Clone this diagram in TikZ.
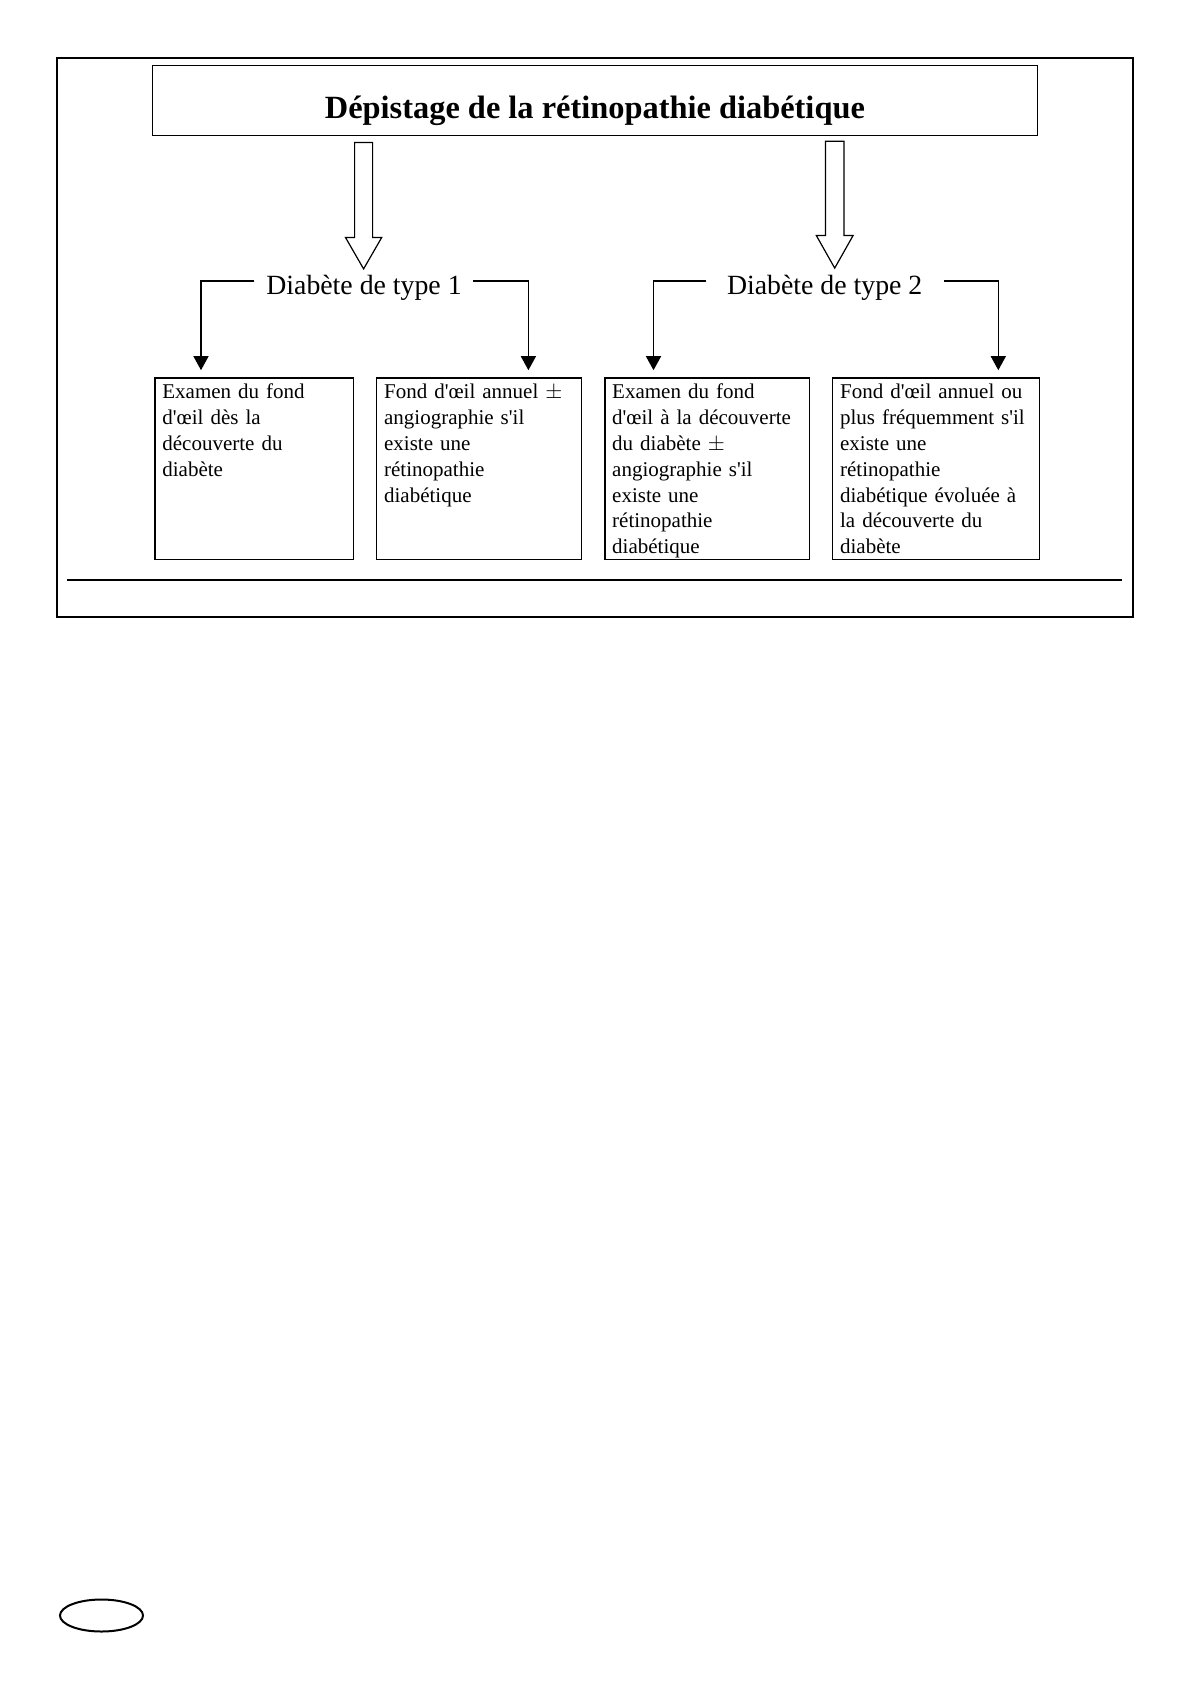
\documentclass[tikz,border=0pt]{standalone}
\usepackage{fontspec}
\setmainfont{Liberation Serif}
\usepackage{tikz}
\usetikzlibrary{arrows.meta, positioning, calc}
\tikzset{
  titlebox/.style={rectangle, draw, line width=0.7pt,
    minimum width=442.6pt, minimum height=35.2pt,
    font=\fontsize{16.2}{19}\selectfont\bfseries,
    text height=18.4pt, text depth=0pt},
  typelabel/.style={font=\fontsize{13.9}{16}\selectfont, inner sep=3pt},
  infobox/.style={rectangle, draw, line width=0.7pt, anchor=north west,
    align=left, text width=#1, inner xsep=3.7pt, inner ysep=3pt,
    text height=7.5pt, text depth=77.4pt,
    font=\fontsize{10.5}{12.9}\selectfont},
  hollow/.style={draw, line width=0.6pt, fill=white},
  arrow/.style={-{Triangle[length=7pt, width=7.5pt]}, line width=0.7pt},
  frame/.style={line width=1pt}
}
\newcommand{\q}{\textquotesingle}

\begin{document}
\begin{tikzpicture}[x=0.5pt, y=-0.5pt]
  \useasboundingbox (0,0) rectangle (1190,1684);
  \draw[frame] (57,58) rectangle (1133,617);

  \node[titlebox] (title) at (594.9,100.6) {Dépistage de la rétinopathie diabétique};

  \node[typelabel] (t1) at (364,288) {Diabète de type 1};
  \node[typelabel] (t2) at (824.7,288) {Diabète de type 2};

  \node[infobox=91.7pt] (b1) at (154.3,377.2)
    {Examen du fond\\d\q œil dès la\\découverte du\\diabète};
  \node[infobox=94.9pt, right=11.05pt of b1] (b2)
    {Fond d\q œil annuel $\pm$\\angiographie s\q il\\existe une\\rétinopathie\\diabétique};
  \node[infobox=94.8pt, right=11.05pt of b2] (b3)
    {Examen du fond\\d\q œil à la découverte\\du diabète $\pm$\\angiographie s\q il\\existe une\\rétinopathie\\diabétique};
  \node[infobox=95.9pt, right=11.05pt of b3] (b4)
    {Fond d\q œil annuel ou\\plus fréquemment s\q il\\existe une\\rétinopathie\\diabétique évoluée à\\la découverte du\\diabète};

  % hollow arrows from the title
  \draw[hollow] ($(title.south -| t1.north)+(-9.4,6)$) -- ++(0,95) -- ++(-9.1,0)
    -- ++(18.1,31.4) -- ++(18.1,-31.4) -- ++(-9.1,0) -- ++(0,-95) -- cycle;
  \draw[hollow] ($(title.south -| t2.north)+(0.7,4.8)$) -- ++(0,94.2) -- ++(-9.1,0)
    -- ++(18.4,32.6) -- ++(18.4,-32.6) -- ++(-9.1,0) -- ++(0,-94.2) -- cycle;

  \draw[arrow] ([xshift=-2.8pt, yshift=3.5pt]t1.west) -| ($(b1.north west)+(46.7,-7)$);
  \draw[arrow] ([xshift=2.7pt, yshift=3.5pt]t1.east) -| ($(b2.north east)+(-53.6,-7)$);
  \draw[arrow] ([xshift=-7.2pt, yshift=3.5pt]t2.west) -| ($(b3.north west)+(49.4,-7)$);
  \draw[arrow] ([xshift=7.75pt, yshift=3.5pt]t2.east) -| ($(b4.north east)+(-41.7,-7)$);

  \draw[line width=0.6pt] (67.4,580) -- (1122,580);

  \draw[line width=1pt] (101.5,1615.5) ellipse [x radius=20.75pt, y radius=8pt];
\end{tikzpicture}
\end{document}
